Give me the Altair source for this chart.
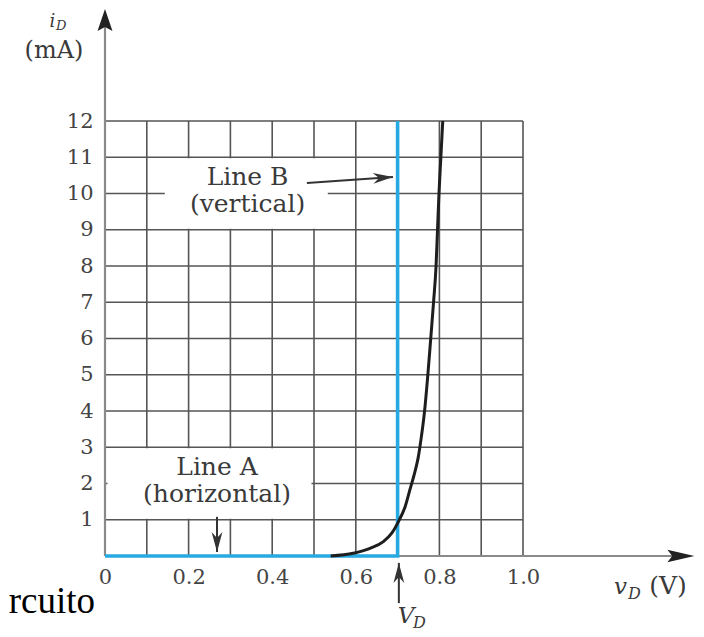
import altair as alt
import pandas as pd

# ---------------- values ----------------
grid_v = [0.1, 0.2, 0.3, 0.4, 0.5, 0.6, 0.7, 0.8, 0.9, 1.0]
grid_i = [1, 2, 3, 4, 5, 6, 7, 8, 9, 10, 11, 12]
x_ticks = [0, 0.2, 0.4, 0.6, 0.8, 1.0]
y_ticks = [1, 2, 3, 4, 5, 6, 7, 8, 9, 10, 11, 12]

# diode characteristic (black curve)
curve_v = [0.54, 0.594, 0.634, 0.665, 0.686, 0.702, 0.718, 0.730, 0.742, 0.749, 0.757,
           0.764, 0.772, 0.779, 0.786, 0.792, 0.7955, 0.799, 0.8035, 0.808]
curve_i = [0.0, 0.074, 0.21, 0.39, 0.63, 0.95, 1.36, 1.85, 2.35, 2.7, 3.3,
           3.94, 4.95, 5.96, 7.0, 8.0, 9.0, 10.0, 11.0, 12.0]

# piecewise (blue) model: line A along i=0, line B vertical at V_D
model_v = [0.0, 0.7, 0.7]
model_i = [0.0, 0.0, 12.0]

# annotation texts
note_text = ["Line B", "(vertical)", "Line A", "(horizontal)"]
note_v = [0.341, 0.341, 0.268, 0.268]
note_i = [10.23, 9.49, 2.23, 1.49]

# annotation arrows (stem start -> tip)
arr_v0 = [0.483, 0.268, 0.703]
arr_i0 = [10.29, 1.08, -1.30]
arr_v1 = [0.689, 0.268, 0.703]
arr_i1 = [10.455, 0.11, -0.19]
arr_angle = [356, 90, 270]

# ---------------- layout ----------------
W, H = 591, 548
PX_V = 418.0     # pixels per volt
PX_I = 36.25     # pixels per mA
X_MAX = W / PX_V
Y_MAX = H / PX_I
X_TIP = 1.41
Y_TIP = 15.09

GRID = "#555555"
AXIS = "#8a8a8a"
BLUE = "#27a9e1"
INK = "#3a3a3a"
SERIF = "DejaVu Serif"

xs = alt.Scale(domain=[0, X_MAX], nice=False, zero=False)
ys = alt.Scale(domain=[0, Y_MAX], nice=False, zero=False)

x_axis = alt.Axis(values=x_ticks, title=None, domain=False, ticks=False, grid=False,
                  labelExpr="datum.value == 0 ? '0' : format(datum.value, '.1f')",
                  labelFont=SERIF, labelFontSize=21, labelColor="#444444",
                  labelPadding=10, labelFlush=False, labelOverlap=False)
y_axis = alt.Axis(values=y_ticks, title=None, domain=False, ticks=False, grid=False,
                  labelFont=SERIF, labelFontSize=21, labelColor="#444444",
                  labelPadding=12, labelFlush=False, labelOverlap=False)


def X(f):
    return alt.X(f, type="quantitative", scale=xs, axis=x_axis)


def Y(f):
    return alt.Y(f, type="quantitative", scale=ys, axis=y_axis)


vgrid = alt.Chart(pd.DataFrame({"v": grid_v, "i0": 0.0, "i1": 12.0})).mark_rule(
    color=GRID, strokeWidth=1.6).encode(x=X("v"), y=Y("i0"), y2="i1")
hgrid = alt.Chart(pd.DataFrame({"i": grid_i, "v0": 0.0, "v1": 1.0})).mark_rule(
    color=GRID, strokeWidth=1.6).encode(y=Y("i"), x=X("v0"), x2="v1")

masks = alt.Chart(pd.DataFrame({"v0": [0.143, 0.006], "v1": [0.533, 0.494],
                                "i0": [9.03, 1.03], "i1": [10.97, 2.97]})).mark_rect(
    color="white").encode(x=X("v0"), x2="v1", y=Y("i0"), y2="i1")

yaxis_line = alt.Chart(pd.DataFrame({"v": [0.0], "i0": [0.0], "i1": [Y_TIP - 0.3]})).mark_rule(
    color=AXIS, strokeWidth=2.2).encode(x=X("v"), y=Y("i0"), y2="i1")
xaxis_line = alt.Chart(pd.DataFrame({"i": [0.0], "v0": [0.0], "v1": [X_TIP - 0.03]})).mark_rule(
    color=AXIS, strokeWidth=2.2).encode(y=Y("i"), x=X("v0"), x2="v1")

head_y = alt.Chart(pd.DataFrame({"v": [0.0], "i": [Y_TIP]})).mark_point(
    shape="M0,0 L-1,-0.34 L-0.82,0 L-1,0.34 Z", size=1936, filled=True, opacity=1,
    color="#222222", angle=270).encode(x=X("v"), y=Y("i"))
head_x = alt.Chart(pd.DataFrame({"v": [X_TIP], "i": [0.0]})).mark_point(
    shape="M0,0 L-1,-0.23 L-0.82,0 L-1,0.23 Z", size=2916, filled=True, opacity=1,
    color="#222222", angle=0).encode(x=X("v"), y=Y("i"))

model = alt.Chart(pd.DataFrame({"v": model_v, "i": model_i, "k": [0, 1, 2]})).mark_line(
    color=BLUE, strokeWidth=3.6, strokeJoin="miter").encode(x=X("v"), y=Y("i"), order="k")

curve = alt.Chart(pd.DataFrame({"v": curve_v, "i": curve_i})).mark_line(
    color="#1e1e1e", strokeWidth=3, interpolate="monotone").encode(x=X("v"), y=Y("i"))

arr_df = pd.DataFrame({"v0": arr_v0, "i0": arr_i0, "v1": arr_v1, "i1": arr_i1, "a": arr_angle})
stems = alt.Chart(arr_df).mark_rule(color="#333333", strokeWidth=2).encode(
    x=X("v0"), y=Y("i0"), x2="v1", y2="i1")
heads = alt.Chart(arr_df).mark_point(
    shape="M0,0 L-1,-0.27 L-0.7,0 L-1,0.27 Z", size=1600, filled=True, opacity=1,
    color="#333333").encode(x=X("v1"), y=Y("i1"), angle=alt.Angle("a:Q", scale=None))

notes = alt.Chart(pd.DataFrame({"t": note_text, "v": note_v, "i": note_i})).mark_text(
    font=SERIF, fontSize=25, color=INK, align="center", baseline="alphabetic").encode(
    x=X("v"), y=Y("i"), text="t:N")

# axis titles
ttl_italic = alt.Chart(pd.DataFrame({
    "t": ["i", "v", "V"],
    "v": [-0.126, 1.233, 0.720],
    "i": [14.6, -1.05, -1.85],
    "s": [18, 23, 23]})).mark_text(
    font=SERIF, fontStyle="italic", color=INK, align="center", baseline="alphabetic").encode(
    x=X("v"), y=Y("i"), text="t:N", size=alt.Size("s:Q", scale=None))
ttl_sub = alt.Chart(pd.DataFrame({
    "t": ["D", "D", "D"],
    "v": [-0.117, 1.251, 0.737],
    "i": [14.52, -1.18, -1.98],
    "s": [13, 16, 16]})).mark_text(
    font=SERIF, fontStyle="italic", color=INK, align="left", baseline="alphabetic").encode(
    x=X("v"), y=Y("i"), text="t:N", size=alt.Size("s:Q", scale=None))
ttl_v = alt.Chart(pd.DataFrame({"t": ["(V)"], "v": [1.302], "i": [-1.05]})).mark_text(
    font=SERIF, fontSize=25, color=INK, align="left", baseline="alphabetic").encode(
    x=X("v"), y=Y("i"), text="t:N")
ttl_ma = alt.Chart(pd.DataFrame({"t": ["(mA)"], "v": [-0.122], "i": [13.73]})).mark_text(
    font=SERIF, fontSize=24, color=INK, align="center", baseline="alphabetic").encode(
    x=X("v"), y=Y("i"), text="t:N")

stray = alt.Chart(pd.DataFrame({"t": ["rcuito"], "v": [-0.2305], "i": [-1.57]})).mark_text(
    font="Liberation Serif", fontSize=37, color="black", align="left", baseline="alphabetic").encode(
    x=X("v"), y=Y("i"), text="t:N")

chart = alt.layer(
    vgrid, hgrid, masks, yaxis_line, xaxis_line, head_y, head_x,
    model, curve, stems, heads, notes, ttl_italic, ttl_sub, ttl_v, ttl_ma, stray
).properties(
    width=W, height=H,
    padding={"left": 97, "top": 0, "right": 0, "bottom": 75},
    autosize=alt.AutoSizeParams(type="none"),
).configure_view(stroke=None)

chart.save("out.html", embed_options={"renderer": "svg", "actions": False})
